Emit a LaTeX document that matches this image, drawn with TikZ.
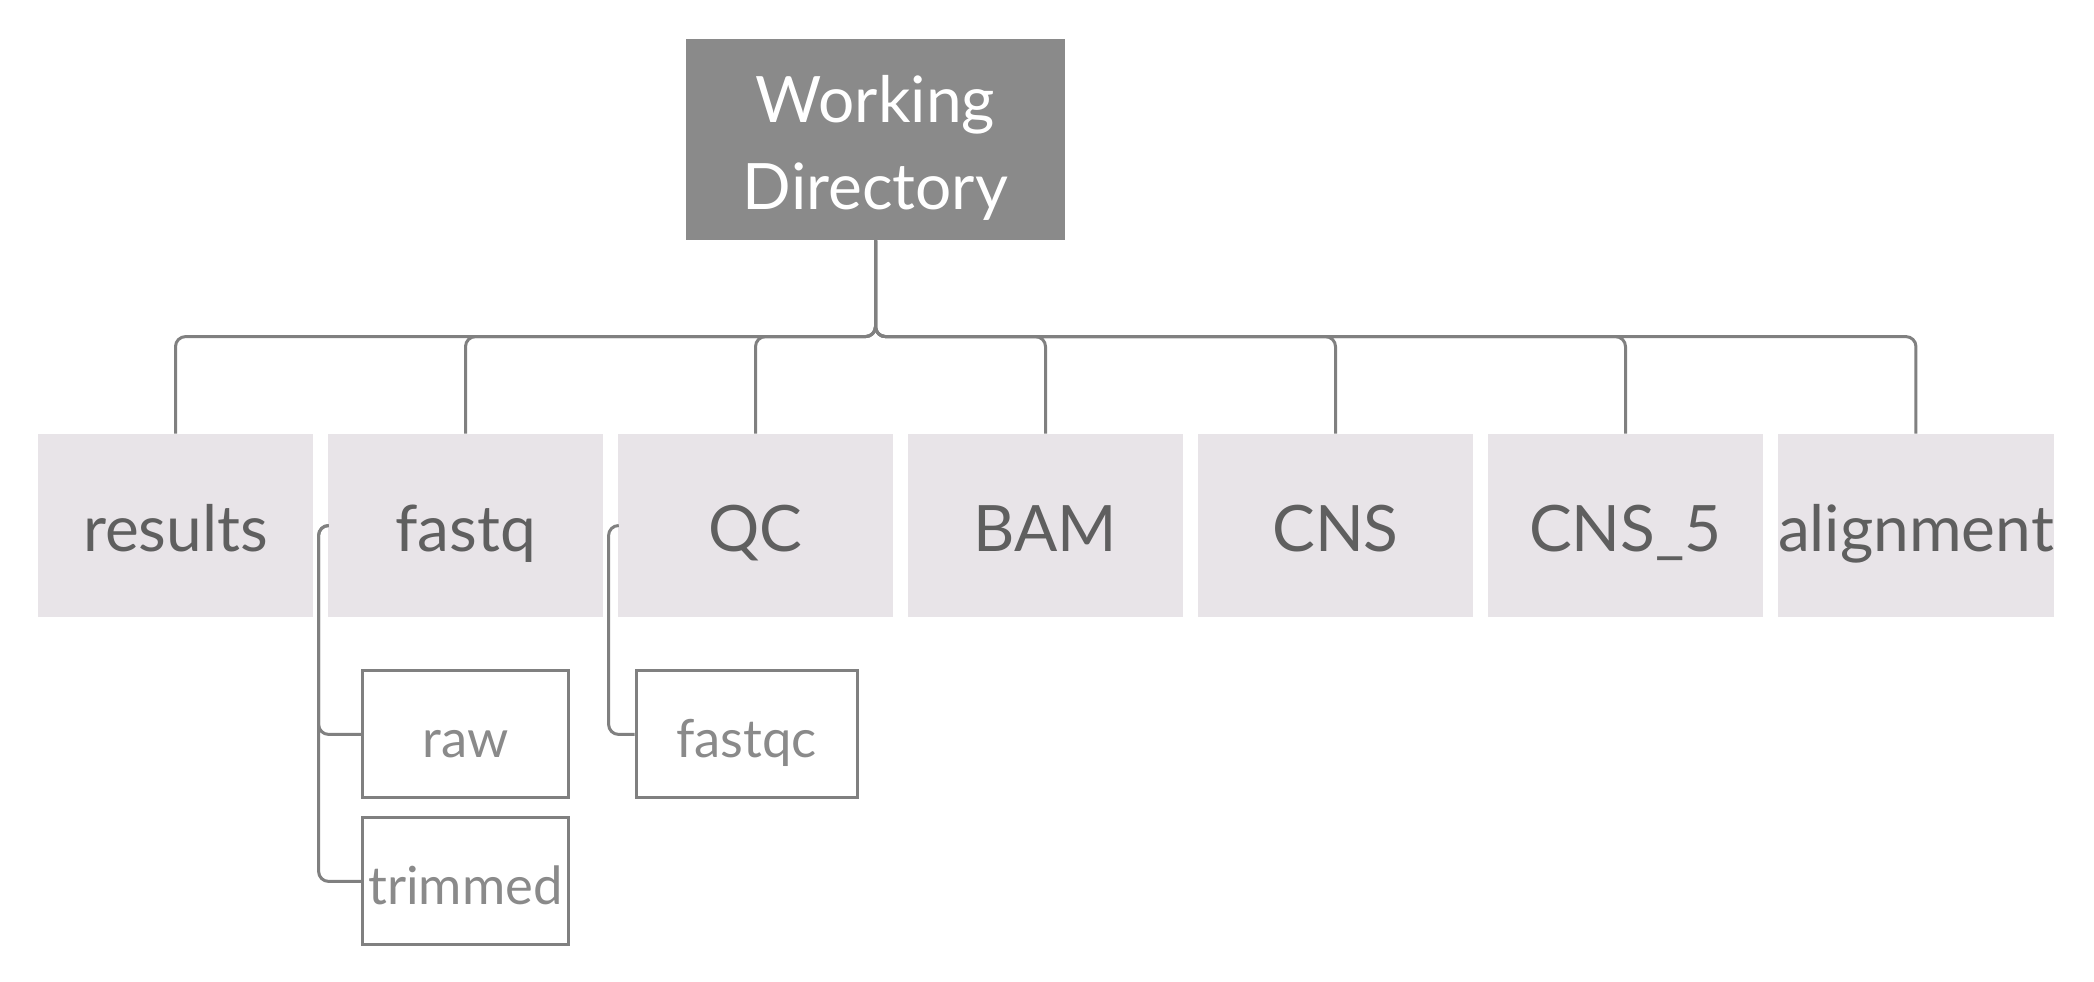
\documentclass[tikz,border=0pt]{standalone}
\usepackage{fontspec}
\setmainfont{Lato}
\usetikzlibrary{positioning}
\definecolor{rootgray}{HTML}{8A8A8A}
\definecolor{foldergray}{HTML}{E8E4E8}
\definecolor{textgray}{HTML}{5F5F5F}
\definecolor{linegray}{HTML}{808080}
\definecolor{subtext}{HTML}{8A8A8A}
\tikzset{
    root/.style={
        rectangle,
        fill=rootgray,
        text=white,
        align=center,
        text height=70pt,
        text depth=0pt,
        minimum width=189.5pt,
        minimum height=100.5pt,
        font=\fontsize{32}{43.5}\selectfont
    },
    folder/.style={
        rectangle,
        fill=foldergray,
        text=textgray,
        inner sep=0pt,
        text height=26pt,
        text depth=0pt,
        minimum width=137.5pt,
        minimum height=91.5pt,
        font=\fontsize{32}{38}\selectfont
    },
    subfolder/.style={
        rectangle,
        draw=linegray,
        line width=1.5pt,
        text=subtext,
        inner sep=0pt,
        text height=23.4pt,
        text depth=0pt,
        minimum width=103pt,
        minimum height=63.5pt,
        font=\fontsize{26.3}{31}\selectfont
    },
    link/.style={
        draw=linegray,
        line width=1.5pt,
        rounded corners=5pt
    }
}

\begin{document}
\begin{tikzpicture}[
    node distance=7.1pt
]
\useasboundingbox (0,0) rectangle (1047pt,-490.5pt);

% Root folder
\node[root, inner sep=0pt] (wd) at (437.75pt,-69.75pt)
{
Working\\Directory
};

% First level folders
\node[folder] (results) at (87.75pt,-262.75pt) {results};
\node[folder, right=of results] (fastq) {fastq};
\node[folder, right=of fastq] (qc) {QC};
\node[folder, right=of qc] (bam) {BAM};
\node[folder, right=of bam] (cns) {CNS};
\node[folder, right=of cns] (cnsfive) {CNS\_5};
\node[folder, right=of cnsfive] (alignment) {alignment};

% Second level folders
\node[subfolder, below=26pt of fastq] (raw) {raw};
\node[subfolder, below=8.5pt of raw] (trimmed) {trimmed};
\node[subfolder, minimum width=110.5pt, below=26pt of qc, xshift=-4.5pt] (fastqc) {fastqc};

% Root to first level
\coordinate (bus) at (0,-168.3pt);
\foreach \dir in {results,fastq,qc,bam,cns,cnsfive,alignment}
    \draw[link] (wd.south) -- (wd.south |- bus) -| (\dir.north);

% First level to second level
\draw[link] (fastq.west) -- ++(-4.5pt,0) |- (raw.west);
\draw[link] (fastq.west) -- ++(-4.5pt,0) |- (trimmed.west);
\draw[link] (qc.west) -- ++(-4.5pt,0) |- (fastqc.west);

\end{tikzpicture}
\end{document}
